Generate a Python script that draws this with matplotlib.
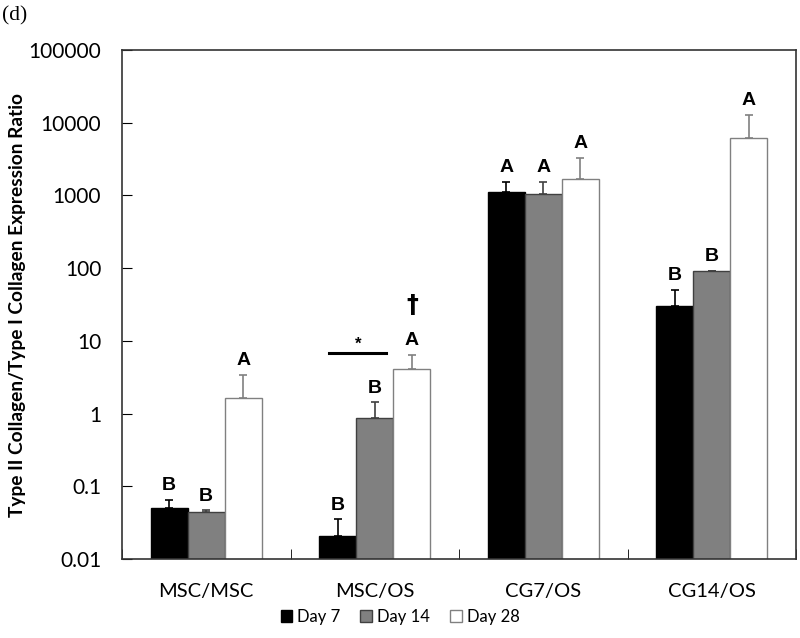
import matplotlib

matplotlib.use("Agg")
import matplotlib.pyplot as plt
import numpy as np

# data
groups = ["MSC/MSC", "MSC/OS", "CG7/OS", "CG14/OS"]
days = ["Day 7", "Day 14", "Day 28"]
day7 = [0.05, 0.021, 1120, 30]
day14 = [0.044, 0.87, 1050, 91]
day28 = [1.65, 4.1, 1690, 6200]
day7_err = [0.015, 0.014, 420, 20]
day14_err = [0.003, 0.57, 490, 1.5]
day28_err = [1.75, 2.3, 1610, 6600]
letters7 = ["B", "B", "A", "B"]
letters14 = ["B", "B", "A", "B"]
letters28 = ["A", "A", "A", "A"]
yticks = [0.01, 0.1, 1, 10, 100, 1000, 10000, 100000]
ytick_labels = ["0.01", "0.1", "1", "10", "100", "1000", "10000", "100000"]

series = [day7, day14, day28]
errors = [day7_err, day14_err, day28_err]
letters = [letters7, letters14, letters28]
face = ["#000000", "#808080", "#ffffff"]
edge = ["#000000", "#404040", "#808080"]
ecol = ["#000000", "#404040", "#808080"]

fig = plt.figure(figsize=(8, 6.38), dpi=100)
ax = fig.add_axes([0.1525, 0.1238, 0.8425, 0.7978])

x = np.arange(len(groups))
w = 0.22
for i in range(3):
    pos = x + (i - 1) * w
    ax.bar(pos, series[i], w, color=face[i], edgecolor=edge[i], linewidth=1,
           label=days[i], zorder=2)
    ax.errorbar(pos, series[i], yerr=[np.zeros(len(groups)), errors[i]],
                fmt="none", ecolor=ecol[i], elinewidth=1.2, capsize=3,
                capthick=1.2, zorder=3)
    for j in range(len(groups)):
        top = series[i][j] + errors[i][j]
        ax.annotate(letters[i][j], (pos[j], top), xytext=(0, 4),
                    textcoords="offset points", ha="center", va="bottom",
                    fontsize=14, fontweight="bold", family="Liberation Sans")

# significance marks over MSC/OS
ax.plot([0.727, 1.065], [6.9, 6.9], color="black", lw=2.2, zorder=3)
ax.text(0.9, 7.9, "*", ha="center", va="baseline", fontsize=12,
        fontweight="bold", family="Liberation Sans")
ax.text(1 + w, 21, "†", ha="center", va="bottom", fontsize=17,
        fontweight="bold", family="DejaVu Sans")

ax.set_yscale("log")
ax.set_ylim(0.01, 100000)
ax.set_xlim(-0.5, len(groups) - 0.5)
ax.set_yticks(yticks)
ax.set_yticklabels(ytick_labels, family="Lato", fontsize=15)
ax.minorticks_off()
ax.tick_params(axis="y", direction="in", length=7, pad=15)

ax.set_xticks(np.arange(len(groups) + 1) - 0.5, minor=True)
ax.set_xticks(x)
ax.set_xticklabels(groups, family="Lato", fontsize=14.5)
ax.tick_params(axis="x", which="major", length=0, pad=17)
ax.tick_params(axis="x", which="minor", direction="in", length=7)

for s in ax.spines.values():
    s.set_color("#333333")
    s.set_linewidth(1.2)

ax.set_ylabel("Type II Collagen/Type I Collagen Expression Ratio",
              fontweight="bold", family="Lato", fontsize=13.8)
ax.yaxis.set_label_coords(-0.142, 0.5)

fig.text(0.003, 0.99, "(d)", family="Liberation Serif", fontsize=15.5,
         va="top", ha="left")

fig.legend(loc="center", bbox_to_anchor=(0.5, 0.033), ncol=3, frameon=False,
           handlelength=0.7, handleheight=0.7, handletextpad=0.3,
           columnspacing=1.2, prop={"family": "Lato", "size": 12})

fig.savefig("out.png", dpi=100)
